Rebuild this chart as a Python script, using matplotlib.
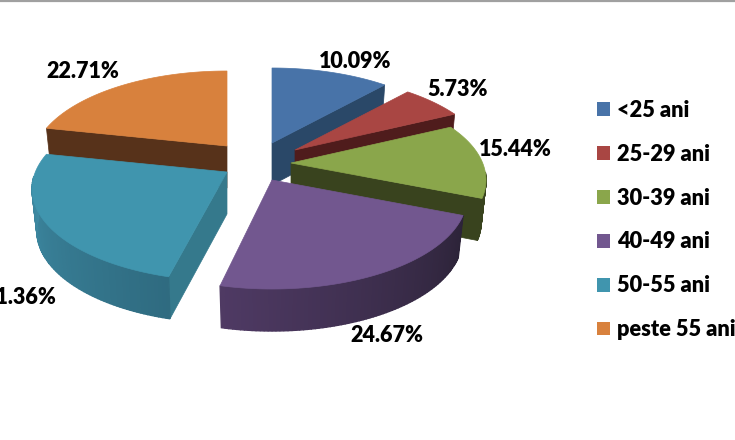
import numpy as np
import matplotlib
matplotlib.use("Agg")
import matplotlib.pyplot as plt
from matplotlib.patches import Polygon, Patch
from matplotlib.colors import to_rgb

categories = ["<25 ani", "25-29 ani", "30-39 ani", "40-49 ani", "50-55 ani", "peste 55 ani"]
values = [10.09, 5.73, 15.44, 24.67, 21.36, 22.71]

top_colors = ["#4873a8", "#a94643", "#8aa64b", "#72578f", "#4095ae", "#d8813d"]
side_colors = ["#2a4868", "#4f1c1c", "#39431e", "#2d2338", "#35798c", "#57321a"]
# rim wall goes darker left to right
rim_left = ["#2a4868", "#4f1c1c", "#39431e", "#4f3a64", "#3d89a2", "#57321a"]
rim_right = ["#2a4868", "#4f1c1c", "#39431e", "#2c2338", "#2f6b80", "#57321a"]

# where each exploded slice has its tip, in pixels
apex_x = [272, 295, 291, 272, 227, 227]
apex_y = [143, 150, 163, 180, 172, 146]
# which cut face shows: 1 = end edge, 0 = start edge, None = neither
cut_face = [1, 1, 1, None, 0, 0]
# teal starts a bit further round than purple ends (degrees)
start_nudge = [0, 0, 0, 0, 2, 0]

label_x = [355, 458, 515, 387, 56, 83]
label_y = [61, 89, 149, 335, 298, 72]
label_ha = ["center", "center", "center", "center", "right", "center"]

RX = 195
RY = 92
RIM_SHIFT = 17
DEPTH = 42
SHRINK = 0.975
# the rim is skewed by the perspective, so pie angles are not ellipse angles
warp_in = [0, 36, 57, 112, 201, 278, 360]
warp_out = [0, 35, 55, 101, 195, 292, 360]


def rim_point(ax_, ay_, t, lower=False):
    dx = RX * np.sin(t)
    dy = RIM_SHIFT - RY * np.cos(t)
    if lower:
        return ax_ + SHRINK * dx, ay_ + dy + DEPTH
    return ax_ + dx, ay_ + dy


def mix(c1, c2, f):
    a, b = np.array(to_rgb(c1)), np.array(to_rgb(c2))
    return tuple(a + (b - a) * f)


fig = plt.figure(figsize=(7.35, 4.4), dpi=100)
ax = fig.add_axes([0, 0, 1, 1])
ax.set_xlim(0, 735)
ax.set_ylim(440, 0)
ax.axis("off")
ax.axhline(0.8, color="#a0a0a0", lw=1.6)

plt.rcParams["font.family"] = ["Lato", "DejaVu Sans"]

edges = np.cumsum([0] + values) / sum(values) * 360
edges_t = np.radians(np.interp(edges, warp_in, warp_out))

# back to front so the nearer slices cover the walls behind them
for i in [5, 0, 1, 2, 4, 3]:
    x0, y0 = apex_x[i], apex_y[i]
    t0, t1 = edges_t[i] + np.radians(start_nudge[i]), edges_t[i + 1]
    ts = np.linspace(t0, t1, 80)

    # cut face
    if cut_face[i] is not None:
        t = t1 if cut_face[i] == 1 else t0
        p = rim_point(x0, y0, t)
        q = rim_point(x0, y0, t, lower=True)
        ax.add_patch(Polygon([(x0, y0), p, q, (x0, y0 + DEPTH)], fc=side_colors[i], ec=side_colors[i], lw=0.5))

    # outer wall, only the part facing us. t grows towards the left on screen here
    front = ts[(ts > np.pi * 0.47) & (ts < np.pi * 1.55)]
    for j in range(len(front) - 1):
        a, b = front[j], front[j + 1]
        f = (a - front[0]) / max(front[-1] - front[0], 1e-6)
        c = mix(rim_right[i], rim_left[i], f)
        quad = [rim_point(x0, y0, a), rim_point(x0, y0, b),
                rim_point(x0, y0, b, lower=True), rim_point(x0, y0, a, lower=True)]
        ax.add_patch(Polygon(quad, fc=c, ec=c, lw=1.0))

    # top
    xs, ys = rim_point(x0, y0, ts)
    pts = [(x0, y0)] + list(zip(xs, ys))
    ax.add_patch(Polygon(pts, fc=top_colors[i], ec=top_colors[i], lw=0.5))

for i, v in enumerate(values):
    ax.text(label_x[i], label_y[i], f"{v:.2f}%", ha=label_ha[i], va="center",
            fontsize=15.5, fontweight="heavy", color="black")

handles = [Patch(fc=c, ec="none") for c in top_colors]
ax.legend(handles, categories, loc="center left", bbox_to_anchor=(597 / 735, 1 - 220 / 440),
          frameon=False, prop={"size": 15.7, "weight": "heavy"}, labelcolor="black",
          handlelength=0.6, handleheight=0.6, handletextpad=0.33, labelspacing=1.05,
          borderpad=0, borderaxespad=0)

fig.savefig("out.png", dpi=100)
